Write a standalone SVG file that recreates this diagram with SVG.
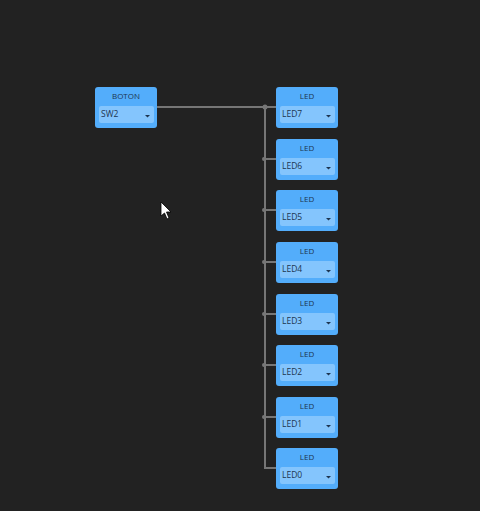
<svg xmlns="http://www.w3.org/2000/svg" width="480" height="511" viewBox="0 0 480 511">
  <style>
    .node { fill: #53adfb; }
    .field { fill: #84c5fd; }
    .title { font-family: "Open Sans", "DejaVu Sans", sans-serif; font-size: 8px; fill: #1d3550; text-anchor: middle; }
    .value { font-family: "Open Sans", "DejaVu Sans", sans-serif; font-size: 8.5px; fill: #1d3550; }
    .caret { fill: #1d3550; }
    .wire { stroke: #767676; stroke-width: 2; fill: none; }
    .joint { fill: #767676; }
  </style>
  <defs>
    <g id="led">
      <rect class="node" x="0" y="0" width="62" height="41" rx="3"/>
      <text class="title" x="31" y="12">LED</text>
      <rect class="field" x="4" y="19" width="55" height="17" rx="2"/>
      <polygon class="caret" points="50,28 55,28 52.5,30.5"/>
    </g>
  </defs>
  <rect width="480" height="511" fill="#222222"/>

  <g id="connectors">
    <path class="wire" d="M157,107 H276"/>
    <path class="wire" d="M265,107 V468 H276"/>
    <path class="wire" d="M265,159 H276 M265,210 H276 M265,262 H276 M265,314 H276 M265,365 H276 M265,417 H276"/>
    <circle class="joint" cx="265" cy="107" r="2.5"/>
    <circle class="joint" cx="264" cy="159" r="2"/>
    <circle class="joint" cx="264" cy="210" r="2"/>
    <circle class="joint" cx="264" cy="262" r="2"/>
    <circle class="joint" cx="264" cy="314" r="2"/>
    <circle class="joint" cx="264" cy="365" r="2"/>
    <circle class="joint" cx="264" cy="417" r="2"/>
  </g>

  <g id="boton" transform="translate(95,87)">
    <rect class="node" x="0" y="0" width="62" height="41" rx="3"/>
    <text class="title" x="31" y="12">BOTON</text>
    <rect class="field" x="4" y="19" width="55" height="17" rx="2"/>
    <text class="value" x="6" y="30">SW2</text>
    <polygon class="caret" points="50,28 55,28 52.5,30.5"/>
  </g>

  <g id="led7" transform="translate(276,87)"><use href="#led"/><text class="value" x="6" y="30">LED7</text></g>
  <g id="led6" transform="translate(276,139)"><use href="#led"/><text class="value" x="6" y="30">LED6</text></g>
  <g id="led5" transform="translate(276,190)"><use href="#led"/><text class="value" x="6" y="30">LED5</text></g>
  <g id="led4" transform="translate(276,242)"><use href="#led"/><text class="value" x="6" y="30">LED4</text></g>
  <g id="led3" transform="translate(276,294)"><use href="#led"/><text class="value" x="6" y="30">LED3</text></g>
  <g id="led2" transform="translate(276,345)"><use href="#led"/><text class="value" x="6" y="30">LED2</text></g>
  <g id="led1" transform="translate(276,397)"><use href="#led"/><text class="value" x="6" y="30">LED1</text></g>
  <g id="led0" transform="translate(276,448)"><use href="#led"/><text class="value" x="6" y="30">LED0</text></g>

  <!-- mouse pointer -->
  <polygon points="161,202 161,216 164.5,213 167,219 169,218 166.5,212 171,212" fill="#ffffff" stroke="#000000" stroke-width="0.8"/>
</svg>
